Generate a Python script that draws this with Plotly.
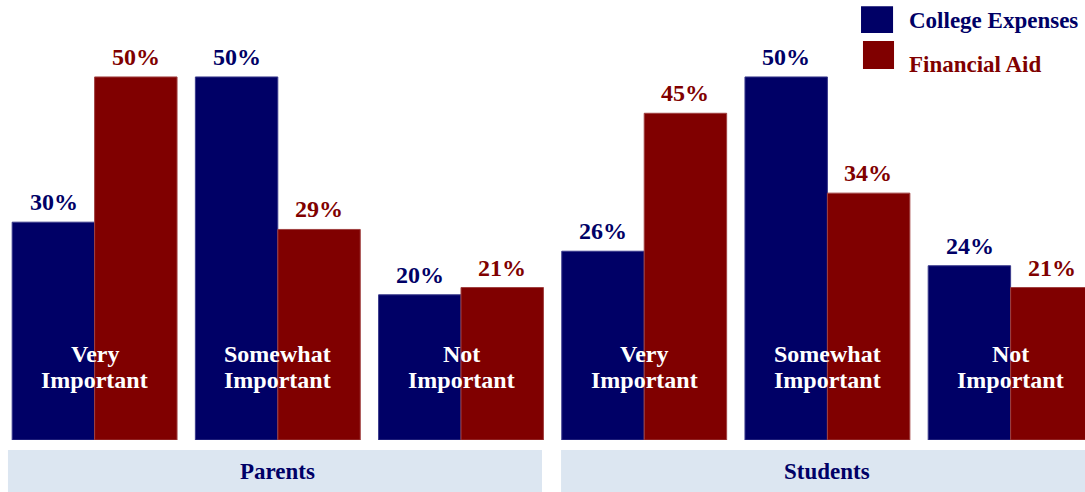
import plotly.graph_objects as go

# ── Data ───────────────────────────────────────────────────────────────────────
groups = ['Parents', 'Students']
ratings = ['Very<br>Important', 'Somewhat<br>Important', 'Not<br>Important']
college_expenses = [30, 50, 20, 26, 50, 24]
financial_aid = [50, 29, 21, 45, 34, 21]
series_names = ['College Expenses', 'Financial Aid']

# ── Style ──────────────────────────────────────────────────────────────────────
C = {
    'navy': '#000066',
    'maroon': '#800000',
    'navy_edge': '#3a3a8c',
    'maroon_edge': '#a04040',
    'band': '#DCE6F1',
    'white': '#FFFFFF',
}
FONT = 'Times New Roman, Liberation Serif, Tinos, serif'

cats = [f'{g} | {r}' for g in groups for r in ratings]
labels = ratings * len(groups)

fig = go.Figure()
for vals, name, col, edge, dx in [
        (college_expenses, series_names[0], C['navy'], C['navy_edge'], -41),
        (financial_aid, series_names[1], C['maroon'], C['maroon_edge'], 41)]:
    fig.add_trace(go.Bar(
        x=cats, y=vals, name=name,
        marker=dict(color=col, line=dict(color=edge, width=1)),
    ))
    # value labels above each bar
    for cat, v in zip(cats, vals):
        fig.add_annotation(
            x=cat, y=v, xref='x', yref='y', xshift=dx, yshift=20,
            xanchor='center', yanchor='middle',
            text=f'<b>{v}%</b>', showarrow=False,
            font=dict(family=FONT, size=24, color=col),
        )

# rating labels across each pair of bars (one annotation per line)
for cat, lab in zip(cats, labels):
    for i, line in enumerate(lab.split('<br>')):
        fig.add_annotation(
            x=cat, y=11.9 - i * 3.6, xref='x', yref='y',
            xanchor='center', yanchor='middle',
            text=f'<b>{line}</b>', showarrow=False,
            font=dict(family=FONT, size=24, color=C['white']),
        )

# group bands underneath
band_x = [(-0.473, 2.442), (2.546, 5.6)]
for (x0, x1), g, cx in zip(band_x, groups, [1, 4]):
    fig.add_shape(type='rect', xref='x', yref='paper',
                  x0=x0, x1=x1, y0=-0.0227, y1=-0.13,
                  fillcolor=C['band'], line=dict(width=0), layer='below')
    fig.add_annotation(
        x=cx, y=-0.0705, xref='x', yref='paper',
        xanchor='center', yanchor='middle',
        text=f'<b>{g}</b>', showarrow=False,
        font=dict(family=FONT, size=23, color=C['navy']),
    )

# legend drawn by hand (big squares, right aligned at top)
for (y0, y1, x0, x1), col, name, ty in zip(
        [(0.986, 0.925, 0.793, 0.8226), (0.907, 0.843, 0.7948, 0.8235)],
        [C['navy'], C['maroon']], series_names, [0.953, 0.853]):
    fig.add_shape(type='rect', xref='paper', yref='paper',
                  x0=x0, x1=x1, y0=y0, y1=y1,
                  fillcolor=col, line=dict(width=0))
    fig.add_annotation(
        x=0.8355, y=ty, xref='paper', yref='paper',
        xanchor='left', yanchor='middle',
        text=f'<b>{name}</b>', showarrow=False,
        font=dict(family=FONT, size=23, color=col),
    )

fig.update_layout(
    width=1085, height=492,
    margin=dict(l=3, r=0, t=0, b=52),
    paper_bgcolor='white', plot_bgcolor='white',
    barmode='group', bargap=0.1, bargroupgap=0,
    showlegend=False,
    xaxis=dict(visible=False, range=[-0.5, 5.406], type='category'),
    yaxis=dict(visible=False, range=[0, 60.6]),
    font=dict(family=FONT),
)

fig.write_html('out.html', config={'displayModeBar': False},
               post_script="document.body.style.margin='0';document.body.style.overflow='hidden';")
